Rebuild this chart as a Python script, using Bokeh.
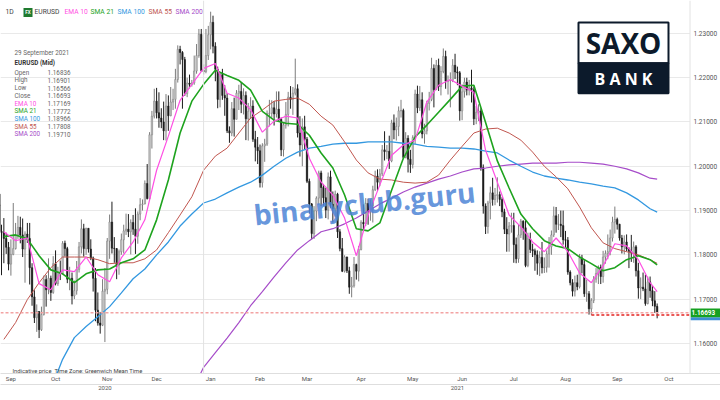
import numpy as np
import pandas as pd
from bokeh.plotting import figure
from bokeh.core.properties import value
from bokeh.models import (ColumnDataSource, FixedTicker, LinearAxis, Label, Span,
                          Grid, Range1d)
from bokeh.embed import file_html
from bokeh.resources import INLINE

# EURUSD daily candles, 1 Sep 2020 - 29 Sep 2021 (one row per month)
first_open = 1.1937
closes = [
    1.1912, 1.1853, 1.1850, 1.1837, 1.1817, 1.1779, 1.1801, 1.1814, 1.1845, 1.1862, 1.1845, 1.1813, 1.1847, 1.1837, 1.1771, 1.1705, 1.1658, 1.1672, 1.1631, 1.1665, 1.1744, 1.1721,
    1.1747, 1.1715, 1.1780, 1.1735, 1.1761, 1.1757, 1.1826, 1.1814, 1.1745, 1.1747, 1.1707, 1.1719, 1.1767, 1.1818, 1.1859, 1.1814, 1.1860, 1.1813, 1.1793, 1.1747, 1.1675, 1.1646,
    1.1641, 1.1718, 1.1722, 1.1831, 1.1874, 1.1815, 1.1814, 1.1777, 1.1807, 1.1834, 1.1854, 1.1858, 1.1852, 1.1873, 1.1858, 1.1842, 1.1892, 1.1913, 1.1915, 1.1961, 1.1927,
    1.2071, 1.2113, 1.2147, 1.2121, 1.2109, 1.2100, 1.2080, 1.2136, 1.2114, 1.2145, 1.2151, 1.2196, 1.2264, 1.2257, 1.2241, 1.2164, 1.2188, 1.2185, 1.2188, 1.2215, 1.2250, 1.2298, 1.2216,
    1.2214, 1.2250, 1.2297, 1.2325, 1.2271, 1.2219, 1.2151, 1.2207, 1.2160, 1.2154, 1.2080, 1.2075, 1.2130, 1.2106, 1.2165, 1.2169, 1.2140, 1.2160, 1.2107, 1.2124, 1.2136,
    1.2061, 1.2043, 1.2035, 1.1963, 1.2046, 1.2050, 1.2119, 1.2120, 1.2132, 1.2118, 1.2129, 1.2106, 1.2037, 1.2093, 1.2117, 1.2156, 1.2151, 1.2165, 1.2175, 1.2075,
    1.2048, 1.2089, 1.2061, 1.1966, 1.1915, 1.1848, 1.1899, 1.1928, 1.1985, 1.1952, 1.1929, 1.1901, 1.1976, 1.1914, 1.1904, 1.1937, 1.1852, 1.1814, 1.1763, 1.1795, 1.1764, 1.1727, 1.1730,
    1.1778, 1.1763, 1.1812, 1.1873, 1.1870, 1.1916, 1.1899, 1.1911, 1.1947, 1.1978, 1.1964, 1.1983, 1.2037, 1.2033, 1.2034, 1.2012, 1.2098, 1.2082, 1.2090, 1.2125, 1.2126, 1.2020,
    1.2063, 1.2016, 1.2004, 1.2065, 1.2163, 1.2132, 1.2150, 1.2073, 1.2080, 1.2142, 1.2151, 1.2221, 1.2173, 1.2228, 1.2180, 1.2214, 1.2248, 1.2192, 1.2193, 1.2194, 1.2228,
    1.2213, 1.2211, 1.2125, 1.2168, 1.2190, 1.2172, 1.2177, 1.2173, 1.2107, 1.2122, 1.2125, 1.1997, 1.1910, 1.1864, 1.1917, 1.1940, 1.1925, 1.1934, 1.1936, 1.1925, 1.1897, 1.1858,
    1.1847, 1.1865, 1.1866, 1.1823, 1.1791, 1.1845, 1.1876, 1.1861, 1.1776, 1.1836, 1.1812, 1.1809, 1.1800, 1.1781, 1.1794, 1.1771, 1.1772, 1.1802, 1.1818, 1.1845, 1.1888, 1.1869,
    1.1869, 1.1866, 1.1834, 1.1833, 1.1761, 1.1737, 1.1718, 1.1737, 1.1728, 1.1793, 1.1778, 1.1712, 1.1712, 1.1678, 1.1697, 1.1745, 1.1758, 1.1772, 1.1751, 1.1795, 1.1803, 1.1807,
    1.1838, 1.1874, 1.1880, 1.1869, 1.1838, 1.1818, 1.1829, 1.1813, 1.1808, 1.1804, 1.1818, 1.1764, 1.1725, 1.1727, 1.1723, 1.1690, 1.1739, 1.1719, 1.1696, 1.16836, 1.16693,
]
highs = [
    1.2011, 1.1915, 1.1868, 1.1883, 1.1850, 1.1829, 1.1835, 1.1917, 1.1872, 1.1888, 1.1886, 1.1882, 1.1853, 1.1872, 1.1872, 1.1781, 1.1720, 1.1688, 1.1673, 1.1683, 1.1753, 1.1754,
    1.1792, 1.1753, 1.1797, 1.1810, 1.1773, 1.1787, 1.1831, 1.1832, 1.1818, 1.1773, 1.1760, 1.1742, 1.1786, 1.1829, 1.1880, 1.1870, 1.1861, 1.1860, 1.1835, 1.1796, 1.1770, 1.1715,
    1.1671, 1.1745, 1.1770, 1.1838, 1.1891, 1.1920, 1.1840, 1.1815, 1.1812, 1.1848, 1.1868, 1.1893, 1.1892, 1.1880, 1.1890, 1.1905, 1.1898, 1.1928, 1.1925, 1.1968, 1.2005,
    1.2077, 1.2125, 1.2175, 1.2177, 1.2167, 1.2131, 1.2146, 1.2163, 1.2160, 1.2179, 1.2175, 1.2220, 1.2273, 1.2272, 1.2260, 1.2247, 1.2200, 1.2207, 1.2195, 1.2250, 1.2276, 1.2310, 1.2310,
    1.2230, 1.2310, 1.2317, 1.2349, 1.2340, 1.2280, 1.2225, 1.2212, 1.2220, 1.2183, 1.2165, 1.2090, 1.2145, 1.2155, 1.2172, 1.2184, 1.2190, 1.2176, 1.2169, 1.2143, 1.2156,
    1.2149, 1.2080, 1.2066, 1.2049, 1.2052, 1.2062, 1.2126, 1.2150, 1.2149, 1.2147, 1.2169, 1.2169, 1.2110, 1.2100, 1.2145, 1.2168, 1.2181, 1.2179, 1.2243, 1.2185,
    1.2113, 1.2108, 1.2114, 1.2066, 1.1972, 1.1917, 1.1910, 1.1932, 1.1990, 1.1990, 1.1960, 1.1951, 1.1986, 1.1990, 1.1943, 1.1945, 1.1940, 1.1858, 1.1838, 1.1799, 1.1796, 1.1773, 1.1750,
    1.1795, 1.1780, 1.1820, 1.1878, 1.1914, 1.1928, 1.1927, 1.1925, 1.1956, 1.1990, 1.1993, 1.1994, 1.2048, 1.2079, 1.2048, 1.2069, 1.2105, 1.2117, 1.2110, 1.2135, 1.2150, 1.2130,
    1.2077, 1.2070, 1.2037, 1.2070, 1.2173, 1.2182, 1.2181, 1.2167, 1.2096, 1.2148, 1.2168, 1.2245, 1.2230, 1.2240, 1.2243, 1.2226, 1.2266, 1.2261, 1.2205, 1.2212, 1.2242,
    1.2254, 1.2225, 1.2215, 1.2185, 1.2200, 1.2200, 1.2195, 1.2218, 1.2180, 1.2136, 1.2140, 1.2131, 1.2004, 1.1916, 1.1922, 1.1954, 1.1974, 1.1951, 1.1975, 1.1943, 1.1930, 1.1904,
    1.1885, 1.1874, 1.1895, 1.1895, 1.1839, 1.1868, 1.1881, 1.1878, 1.1880, 1.1850, 1.1850, 1.1825, 1.1814, 1.1810, 1.1808, 1.1829, 1.1794, 1.1810, 1.1840, 1.1855, 1.1909, 1.1908,
    1.1892, 1.1900, 1.1900, 1.1854, 1.1840, 1.1765, 1.1745, 1.1753, 1.1755, 1.1802, 1.1800, 1.1788, 1.1744, 1.1718, 1.1702, 1.1752, 1.1770, 1.1776, 1.1778, 1.1809, 1.1810, 1.1846,
    1.1857, 1.1886, 1.1909, 1.1884, 1.1870, 1.1845, 1.1844, 1.1846, 1.1817, 1.1845, 1.1830, 1.1822, 1.1782, 1.1749, 1.1760, 1.1755, 1.1751, 1.1751, 1.1730, 1.1718, 1.16901,
]
lows = [
    1.1911, 1.1789, 1.1754, 1.1781, 1.1802, 1.1765, 1.1753, 1.1799, 1.1812, 1.1836, 1.1826, 1.1795, 1.1737, 1.1827, 1.1733, 1.1685, 1.1646, 1.1626, 1.1612, 1.1628, 1.1663, 1.1683,
    1.1711, 1.1696, 1.1712, 1.1731, 1.1730, 1.1743, 1.1756, 1.1796, 1.1736, 1.1720, 1.1688, 1.1700, 1.1710, 1.1760, 1.1803, 1.1796, 1.1800, 1.1805, 1.1788, 1.1717, 1.1650, 1.1640,
    1.1622, 1.1639, 1.1603, 1.1711, 1.1791, 1.1803, 1.1782, 1.1745, 1.1755, 1.1800, 1.1803, 1.1845, 1.1840, 1.1801, 1.1845, 1.1802, 1.1825, 1.1878, 1.1900, 1.1914, 1.1925,
    1.1923, 1.2040, 1.2108, 1.2108, 1.2087, 1.2086, 1.2059, 1.2058, 1.2080, 1.2113, 1.2127, 1.2130, 1.2189, 1.2230, 1.2130, 1.2159, 1.2156, 1.2176, 1.2180, 1.2184, 1.2209, 1.2245, 1.2214,
    1.2207, 1.2210, 1.2240, 1.2264, 1.2255, 1.2192, 1.2131, 1.2133, 1.2150, 1.2114, 1.2075, 1.2053, 1.2068, 1.2067, 1.2106, 1.2127, 1.2120, 1.2117, 1.2059, 1.2058, 1.2107,
    1.2055, 1.2011, 1.2005, 1.1952, 1.1952, 1.2010, 1.2046, 1.2090, 1.2110, 1.2092, 1.2110, 1.2100, 1.2023, 1.2022, 1.2085, 1.2090, 1.2130, 1.2116, 1.2160, 1.2065,
    1.2022, 1.2000, 1.2038, 1.1962, 1.1893, 1.1835, 1.1836, 1.1876, 1.1913, 1.1910, 1.1911, 1.1883, 1.1880, 1.1906, 1.1873, 1.1886, 1.1838, 1.1808, 1.1761, 1.1760, 1.1759, 1.1712, 1.1704,
    1.1726, 1.1744, 1.1740, 1.1810, 1.1854, 1.1865, 1.1868, 1.1877, 1.1873, 1.1944, 1.1944, 1.1955, 1.1978, 1.2013, 1.2016, 1.1994, 1.2009, 1.2061, 1.2058, 1.2068, 1.2110, 1.2016,
    1.2018, 1.1986, 1.1985, 1.1995, 1.2050, 1.2120, 1.2125, 1.2063, 1.2051, 1.2072, 1.2126, 1.2147, 1.2133, 1.2172, 1.2170, 1.2160, 1.2210, 1.2175, 1.2162, 1.2133, 1.2190,
    1.2197, 1.2183, 1.2103, 1.2104, 1.2155, 1.2160, 1.2160, 1.2144, 1.2093, 1.2095, 1.2102, 1.1990, 1.1893, 1.1847, 1.1848, 1.1880, 1.1911, 1.1912, 1.1918, 1.1910, 1.1885, 1.1847,
    1.1807, 1.1807, 1.1850, 1.1782, 1.1781, 1.1782, 1.1838, 1.1834, 1.1772, 1.1772, 1.1804, 1.1795, 1.1764, 1.1755, 1.1752, 1.1758, 1.1759, 1.1760, 1.1771, 1.1800, 1.1840, 1.1850,
    1.1856, 1.1840, 1.1823, 1.1817, 1.1755, 1.1731, 1.1706, 1.1706, 1.1720, 1.1724, 1.1758, 1.1705, 1.1694, 1.1665, 1.1664, 1.1691, 1.1737, 1.1734, 1.1734, 1.1737, 1.1780, 1.1790,
    1.1799, 1.1830, 1.1848, 1.1857, 1.1832, 1.1803, 1.1801, 1.1808, 1.1770, 1.1784, 1.1782, 1.1751, 1.1701, 1.1700, 1.1718, 1.1685, 1.1688, 1.1703, 1.1684, 1.1669, 1.16566,
]

# moving averages, one value per Friday plus the last day
ema10 = [
    1.1852, 1.1832, 1.1838, 1.1735, 1.1721, 1.1766, 1.1762, 1.1795, 1.1755, 1.1739,
    1.1793, 1.1829, 1.1879, 1.1991, 1.2068, 1.2149, 1.2185, 1.2221, 1.2232, 1.2165,
    1.2154, 1.2128, 1.2077, 1.2102, 1.2113, 1.2109, 1.2018, 1.1964, 1.1935, 1.1883,
    1.1798, 1.1890, 1.1958, 1.2025, 1.2048, 1.2059, 1.2145, 1.2183, 1.2196, 1.2181,
    1.2167, 1.2036, 1.1964, 1.1890, 1.1863, 1.1829, 1.1807, 1.1838, 1.1807, 1.1759,
    1.1737, 1.1775, 1.1825, 1.1820, 1.1789, 1.1737, 1.17169,
]
sma21 = [
    1.1841, 1.1845, 1.1836, 1.1798, 1.1766, 1.1757, 1.1737, 1.1757, 1.1766, 1.1768,
    1.1782, 1.1791, 1.1811, 1.1879, 1.1969, 1.2075, 1.2147, 1.2185, 1.2217, 1.2205,
    1.2194, 1.2172, 1.2124, 1.2104, 1.2097, 1.2095, 1.2070, 1.2030, 1.1996, 1.1935,
    1.1859, 1.1854, 1.1872, 1.1946, 1.2018, 1.2066, 1.2093, 1.2122, 1.2151, 1.2181,
    1.2183, 1.2099, 1.2012, 1.1951, 1.1892, 1.1859, 1.1832, 1.1820, 1.1814, 1.1795,
    1.1780, 1.1764, 1.1771, 1.1789, 1.1798, 1.1789, 1.17772,
]
sma55 = [
    1.1609, 1.1647, 1.1699, 1.1737, 1.1771, 1.1795, 1.1795, 1.1795, 1.1789, 1.1780,
    1.1782, 1.1782, 1.1791, 1.1811, 1.1850, 1.1890, 1.1931, 1.1991, 1.2023, 1.2041,
    1.2075, 1.2109, 1.2127, 1.2147, 1.2151, 1.2154, 1.2140, 1.2113, 1.2093, 1.2055,
    1.2014, 1.1985, 1.1971, 1.1969, 1.1964, 1.1962, 1.1964, 1.1980, 1.2014, 1.2045,
    1.2075, 1.2084, 1.2086, 1.2075, 1.2059, 1.2032, 1.2000, 1.1976, 1.1949, 1.1908,
    1.1861, 1.1827, 1.1814, 1.1807, 1.1800, 1.1789, 1.17808,
]
# SMA 100 from the 5th Friday on, SMA 200 from the 17th
sma100 = [
    1.1496, 1.1564, 1.1613, 1.1638, 1.1660, 1.1683, 1.1714, 1.1746, 1.1768, 1.1800,
    1.1829, 1.1865, 1.1892, 1.1917, 1.1926, 1.1940, 1.1953, 1.1964, 1.1980, 1.2000,
    1.2018, 1.2032, 1.2041, 1.2045, 1.2050, 1.2052, 1.2052, 1.2055, 1.2055, 1.2055,
    1.2052, 1.2050, 1.2045, 1.2043, 1.2041, 1.2041, 1.2039, 1.2034, 1.2030, 1.2014,
    1.2000, 1.1987, 1.1978, 1.1973, 1.1969, 1.1964, 1.1960, 1.1955, 1.1951, 1.1940,
    1.1924, 1.1904, 1.18966,
]
sma200 = [
    1.1491, 1.1546, 1.1579, 1.1612, 1.1647, 1.1685, 1.1717, 1.1750, 1.1782, 1.1811,
    1.1832, 1.1852, 1.1859, 1.1870, 1.1883, 1.1899, 1.1915, 1.1928, 1.1942, 1.1953,
    1.1962, 1.1971, 1.1978, 1.1987, 1.1994, 1.1996, 1.2000, 1.2003, 1.2005, 1.2007,
    1.2007, 1.2007, 1.2009, 1.2009, 1.2007, 1.2005, 1.2000, 1.1994, 1.1985, 1.1973,
    1.19710,
]

ma_names = ["EMA 10", "SMA 21", "SMA 100", "SMA 55", "SMA 200"]
ma_colors = ["#ff4fe3", "#1ea31e", "#3398e0", "#c0564f", "#a64cc9"]
panel_labels = ["Open", "High", "Low", "Close"] + ma_names
panel_values = ["1.16836", "1.16901", "1.16566", "1.16693",
                "1.17169", "1.17772", "1.18966", "1.17808", "1.19710"]
price_ticks = [1.16, 1.17, 1.18, 1.19, 1.20, 1.21, 1.22, 1.23]
support_level = 1.1664
support_date = "2021-08-20"

days = pd.bdate_range("2020-09-01", "2021-09-29")
calendar = pd.bdate_range("2020-09-01", "2021-10-01")
idx = np.arange(len(days))
ma_days = pd.date_range("2020-09-04", "2021-09-24", freq="W-FRI").append(
    pd.DatetimeIndex(["2021-09-29"]))
ma_x = days.get_indexer(ma_days)

# FX daily candles open at the previous close
opens = [first_open] + closes[:-1]
up = [c >= o for o, c in zip(opens, closes)]
src = ColumnDataSource(dict(
    x=idx, high=highs, low=lows,
    top=np.maximum(opens, closes), bottom=np.minimum(opens, closes),
    fill=["#c9c9c9" if u else "#1c1c1c" for u in up],
    edge=["#7c7c7c" if u else "#1c1c1c" for u in up],
))


# reference picture pixel -> data
def sx(px):
    return (px + 3.7) / 2.35


def sy(py):
    return 1.23 - (py - 33) / 4440


p = figure(width=720, height=392, x_range=Range1d(sx(0), sx(720)),
           y_range=Range1d(sy(374), sy(0)), y_axis_location=None,
           output_backend="svg", toolbar_location=None,
           min_border_left=0, min_border_top=0, min_border_right=0, min_border_bottom=0)
p.outline_line_color = None
p.xgrid.grid_line_color = None
p.ygrid.grid_line_color = None
p.add_layout(Grid(dimension=1, ticker=FixedTicker(ticks=price_ticks), grid_line_color="#e9e9e9"))

# month row and year row under the chart
starts = [i for i in range(len(calendar)) if i == 0 or calendar[i].month != calendar[i - 1].month]
month_pos = [max(s + 3, 6) for s in starts]
month_axis = p.xaxis[0]
month_axis.ticker = FixedTicker(ticks=month_pos)
month_axis.major_label_overrides = {m: calendar[s].strftime("%b") for m, s in zip(month_pos, starts)}
year_axis = LinearAxis(ticker=FixedTicker(ticks=[46, 196]),
                       major_label_overrides={46: "2020", 196: "2021"})
p.add_layout(year_axis, "below")
for ax in (month_axis, year_axis):
    ax.axis_line_color = "#dedede"
    ax.major_tick_line_color = None
    ax.minor_tick_line_color = None
    ax.major_tick_out = 0
    ax.minor_tick_out = 0
    ax.major_label_text_font_size = "6px"
    ax.major_label_text_color = "#555555"
    ax.major_label_text_font = "Roboto"
    ax.major_label_standoff = 1

p.add_layout(Span(location=starts[4], dimension="height", line_color="#e2e2e2", line_width=1))

p.segment(x0="x", y0="low", x1="x", y1="high", line_color="edge", line_width=1, source=src)
p.vbar(x="x", width=0.62, top="top", bottom="bottom", fill_color="fill",
       line_color="edge", line_width=0.5, source=src)

p.line(ma_x[16:], sma200, line_color=ma_colors[4], line_width=1.2)
p.line(ma_x[4:], sma100, line_color=ma_colors[2], line_width=1.3)
p.line(ma_x, sma55, line_color=ma_colors[3], line_width=1.0)
p.line(ma_x, sma21, line_color=ma_colors[1], line_width=1.6)
p.line(ma_x, ema10, line_color=ma_colors[0], line_width=1.2)

# price scale column on the right
p.quad(left=sx(689.5), right=sx(730), top=sy(-5), bottom=sy(380), fill_color="white", line_color=None)
p.add_layout(Span(location=sx(689.5), dimension="height", line_color="#e2e2e2", line_width=1))
p.text(x=[sx(693)] * len(price_ticks), y=price_ticks, text=[f"{t:.5f}" for t in price_ticks],
       text_font=value("Roboto"), text_font_size=value("6.5px"), text_color="#555555",
       text_baseline="middle")

p.segment(x0=sx(0), y0=closes[-1], x1=sx(689.5), y1=closes[-1], line_color="#f3a3a3",
          line_dash="3 2", line_width=1.5)
sup_x = days.get_loc(pd.Timestamp(support_date))
p.segment(x0=sup_x, y0=support_level, x1=sx(689.5), y1=support_level,
          line_color="#e3221f", line_dash="3 2", line_width=1.5)

# last price tag
p.quad(left=sx(690), right=sx(721), top=sy(317.5), bottom=sy(320.5), fill_color="#3d8fd6", line_color=None)
p.quad(left=sx(690), right=sx(721), top=sy(308.8), bottom=sy(317.5), fill_color="#16a021", line_color=None)
p.text(x=[sx(691)], y=[closes[-1]], text=[f"{closes[-1]:.5f}"], text_font=value("Roboto"),
       text_font_size=value("6.3px"), text_font_style="bold", text_color="white",
       text_baseline="middle")


def note(px, py, text, size=7.0, color="#555555", bold=False, align="left",
         font="Roboto", **kw):
    p.add_layout(Label(x=sx(px), y=sy(py), text=text, text_font=font,
                       text_font_size=f"{size}px", text_color=color,
                       text_font_style="bold" if bold else "normal",
                       text_align=align, text_baseline="middle", **kw))


# header line
note(5, 12, "1D", 6.8, "#444444")
p.quad(left=sx(23), right=sx(32), top=sy(7.5), bottom=sy(16.5), fill_color="#1f7a2e", line_color=None)
note(27.5, 12.2, "FX", 4.6, "white", bold=True, align="center")
note(34, 12, "EURUSD", 6.7, "#444444")
for name, col, px in zip(ma_names, ma_colors, [64, 90, 117, 148, 175]):
    note(px, 12, name, 6.7, col)

# data panel
note(14, 53, "29 September 2021", 6.3, "#666666")
note(14, 63, "EURUSD (Mid)", 6.3, "#333333", bold=True)
label_colors = ["#666666"] * 4 + ma_colors
for k, (name, val, col) in enumerate(zip(panel_labels, panel_values, label_colors)):
    py = 72.5 + k * 7.7
    note(14, py, name, 6.3, col)
    note(70, py, val, 6.3, "#666666", align="right")

note(12, 371, "Indicative price", 5.8, "#444444")
note(54, 371, "Time Zone: Greenwich Mean Time", 5.8, "#444444")

# logo
p.quad(left=sx(578), right=sx(668), top=sy(22), bottom=sy(63), fill_color="white",
       line_color="#0c1a2b", line_width=2)
p.quad(left=sx(578), right=sx(668), top=sy(63), bottom=sy(93), fill_color="#0c1a2b",
       line_color="#0c1a2b", line_width=2)
note(623, 43, "SAXO", 28, "#0c1a2b", bold=True, align="center", font="Open Sans")
note(623, 78.5, "B A N K", 16, "white", bold=True, align="center", font="Open Sans")

# watermark
p.add_layout(Label(x=sx(364), y=sy(203), text="binaryclub.guru", text_font="Open Sans",
                   text_font_size="28px", text_font_style="bold", text_color="#4d84d6",
                   text_alpha=0.85, text_align="center", text_baseline="middle",
                   angle=6, angle_units="deg"))

open("out.html", "w").write(file_html(p, INLINE))
